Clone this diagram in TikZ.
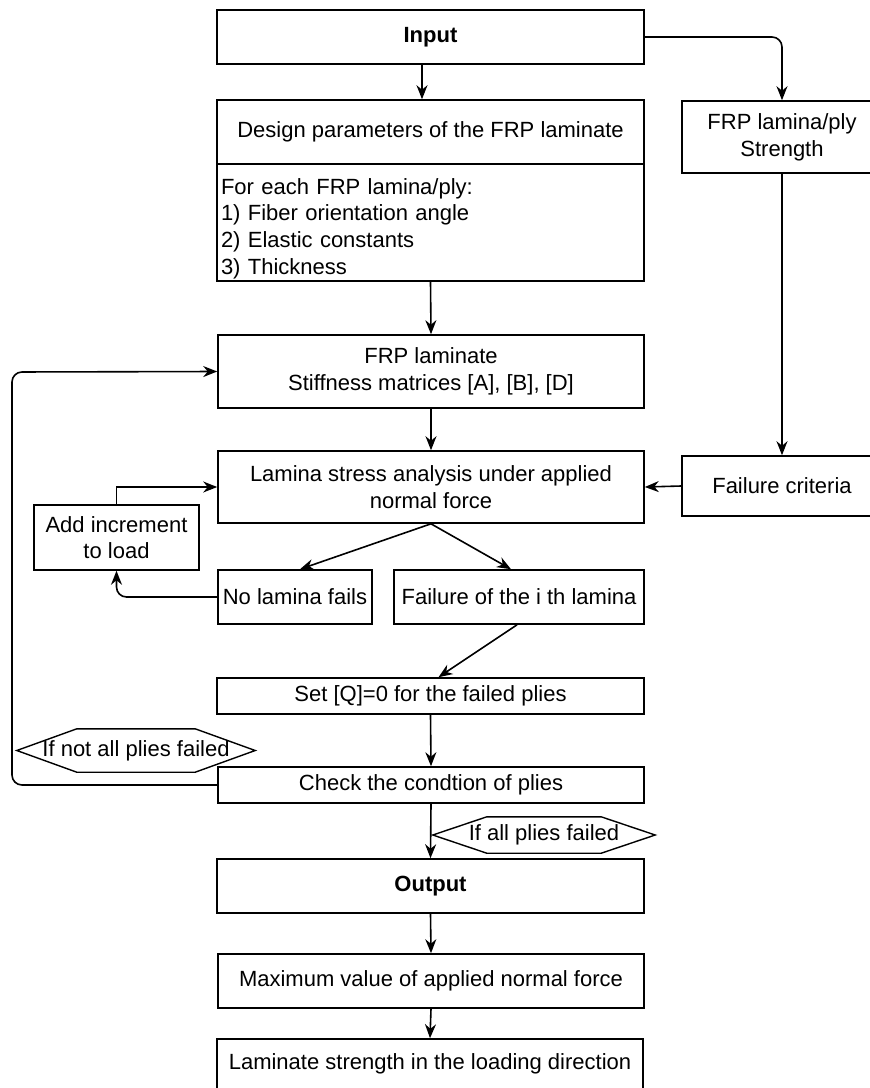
\documentclass[tikz,border=0pt]{standalone}
\usepackage{fontspec}
\setmainfont{Liberation Sans}
\usetikzlibrary{arrows.meta}

\newcommand{\hexframe}[2]{\draw[line width=1.4pt] (#1.west) -- ([xshift=#2]#1.north west) -- ([xshift=-#2]#1.north east) -- (#1.east) -- ([xshift=-#2]#1.south east) -- ([xshift=#2]#1.south west) -- cycle;}

\begin{document}
\begin{tikzpicture}[x=1pt,y=-1pt,
  box/.style={draw,line width=1.6pt,inner sep=0pt,minimum width=427pt,align=center,font=\fontsize{22}{26.7}\selectfont},
  side/.style={box,minimum width=200pt},
  cond/.style={inner sep=0pt,font=\fontsize{22}{26.7}\selectfont},
  arr/.style={line width=1.6pt,-{Stealth[length=14pt,width=11pt]}}]
\useasboundingbox (0,0) rectangle (870,1088);

% main column
\node[box,minimum height=54pt] (input) at (430.5,37) {\bfseries Input};
\node[box,minimum height=64pt] (design) at (430.5,132) {Design parameters of the FRP laminate};
\node[box,minimum height=117pt,text width=419pt,inner xsep=4pt,align=left] (plylist) at (430.5,222.5)
  {\rule{0pt}{28pt}For each FRP lamina/ply:\\1) Fiber orientation angle\\2) Elastic constants\\3) Thickness};
\node[box,minimum width=426pt,minimum height=73pt] (laminate) at (431,371.5) {FRP laminate\\Stiffness matrices [A], [B], [D]};
\node[box,minimum width=426pt,minimum height=72pt] (stress) at (431,487) {Lamina stress analysis under applied\\normal force};
\node[box,minimum width=154pt,minimum height=54pt] (nofail) at (295,597) {No lamina fails};
\node[box,minimum width=250pt,minimum height=54pt] (failith) at (519,597) {Failure of the i th lamina};
\node[box,minimum width=165pt,minimum height=65pt] (addinc) at (116.5,537.5) {Add increment\\to load};
\node[box,minimum height=36pt] (setq) at (430.5,696) {Set [Q]=0 for the failed plies};
\node[box,minimum width=426pt,minimum height=36pt] (check) at (431,785) {Check the condtion of plies};
\node[box,minimum height=54pt] (output) at (430.5,886) {\bfseries Output};
\node[box,minimum width=426pt,minimum height=54pt] (maxval) at (431,981) {Maximum value of applied normal force};
\node[box,minimum width=426pt,minimum height=50pt] (lamstr) at (430,1064) {Laminate strength in the loading direction};

% right column
\node[side,minimum height=72pt] (strength) at (782,137) {FRP lamina/ply\\Strength};
\node[side,minimum height=60pt] (failure) at (782,486) {Failure criteria};

% conditions
\node[cond,minimum width=238pt,minimum height=43pt] (notall) at (136,750.5) {If not all plies failed};
\hexframe{notall}{60pt}
\node[cond,minimum width=222pt,minimum height=36pt] (allfail) at (544,835) {If all plies failed};
\hexframe{allfail}{54pt}

% connectors
\draw[arr] (input.south -| 422,0) -- (design.north -| 422,0);
\draw[arr,rounded corners=10pt] (input.east) -| (strength.north);
\draw[arr] (plylist.south) -- (laminate.north);
\draw[arr] (laminate.south) -- (stress.north);
\draw[arr] (strength.south) -- (failure.north);
\draw[arr] (failure.west) -- (stress.east);
\draw[arr] (stress.south) -- ([xshift=5pt]nofail.north);
\draw[arr] (stress.south) -- ([xshift=-8pt]failith.north);
\draw[arr,rounded corners=10pt] (nofail.west) -| (addinc.south);
\draw[arr] (addinc.north) |- (stress.west);
\draw[arr] ([xshift=-2pt]failith.south) -- ([xshift=8pt]setq.north);
\draw[arr] (setq.south) -- (check.north);
\draw[arr,rounded corners=10pt] (check.west) -| (12,372) -- (laminate.west);
\draw[arr] (check.south) -- (output.north);
\draw[arr] (output.south) -- (maxval.north);
\draw[arr] (maxval.south) -- (lamstr.north);
\end{tikzpicture}
\end{document}
